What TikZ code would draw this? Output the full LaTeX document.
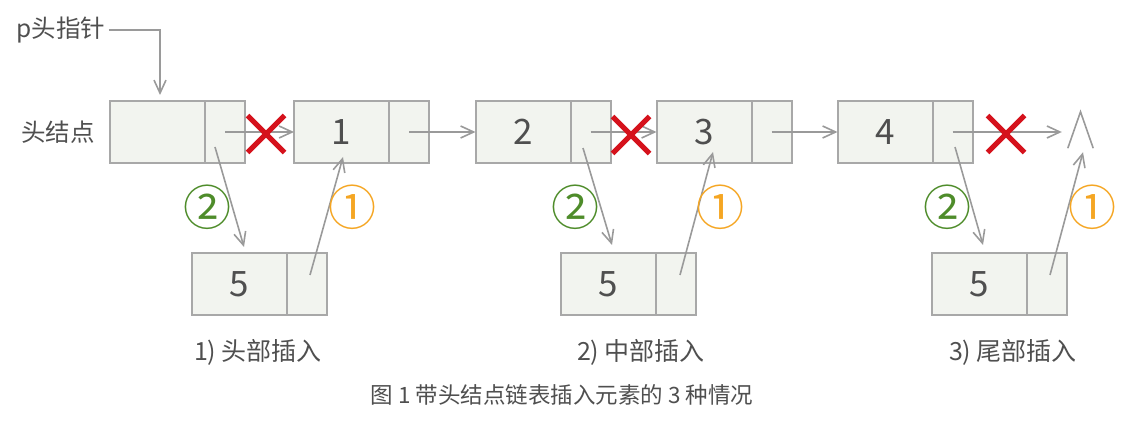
\documentclass[tikz,border=0pt]{standalone}
\usepackage{fontspec}
\setmainfont{Noto Sans CJK SC}
\usepackage{xcolor}
\usepackage{tikz}
\usetikzlibrary{arrows.meta,positioning,shapes.misc}
\definecolor{boxfill}{HTML}{F2F4EF}
\definecolor{boxline}{HTML}{A8A8A8}
\definecolor{linkgray}{HTML}{9A9A9A}
\definecolor{txtgray}{HTML}{4F4F4F}
\definecolor{stepgreen}{HTML}{4E8C2A}
\definecolor{steporange}{HTML}{F5A623}
\definecolor{cutred}{HTML}{D5121C}
\tikzset{
  >={Straight Barb[length=13pt,width=12pt]},
  datacell/.style={draw=boxline, fill=boxfill, line width=2pt, outer sep=0pt, minimum width=95pt, minimum height=62pt, text=txtgray, font=\fontsize{35}{38}\selectfont},
  ptrcell/.style={datacell, minimum width=40pt},
  link/.style={draw=linkgray, line width=1.6pt, ->},
  cutmark/.style={cross out, draw=cutred, line width=5pt, minimum size=32pt, inner sep=0pt},
  stepa/.style={text=steporange, font=\fontsize{48}{50}\selectfont, inner sep=0pt},
  stepb/.style={text=stepgreen, font=\fontsize{48}{50}\selectfont, inner sep=0pt},
  lbl/.style={text=txtgray, font=\fontsize{24.5}{27}\selectfont},
  capt/.style={text=txtgray, font=\fontsize{25}{28}\selectfont},
  title/.style={text=txtgray, font=\fontsize{22.5}{25}\selectfont},
}

\begin{document}
\begin{tikzpicture}[x=1pt,y=1pt]
  \useasboundingbox (0,0) rectangle (1145,434);

  \node[lbl] (ptr) at (61,404) {p头指针};
  \node[lbl] (head) at (58,302) {头结点};

  \node[datacell] (hd) at (157.5,302) {};
  \node[ptrcell, right=0pt of hd] (hdp) {};
  \node[datacell] (n1) at (341.5,302) {1};
  \node[ptrcell, right=0pt of n1] (n1p) {};
  \node[datacell] (n2) at (523,302) {2};
  \node[ptrcell, right=0pt of n2] (n2p) {};
  \node[datacell] (n3) at (704,302) {3};
  \node[ptrcell, right=0pt of n3] (n3p) {};
  \node[datacell] (n4) at (885,302) {4};
  \node[ptrcell, right=0pt of n4] (n4p) {};
  \node[inner sep=0pt, minimum width=25pt, minimum height=36pt] (null) at (1080.5,304) {};

  \node[datacell] (a5) at (239,150) {5};
  \node[ptrcell, right=0pt of a5] (a5p) {};
  \node[datacell] (b5) at (608,150) {5};
  \node[ptrcell, right=0pt of b5] (b5p) {};
  \node[datacell] (c5) at (979,150) {5};
  \node[ptrcell, right=0pt of c5] (c5p) {};

  \draw[draw=linkgray, line width=1.6pt] (null.south west) -- (null.north) -- (null.south east);

  \draw[link, shorten >=6pt] (ptr.east) -| ([xshift=2.5pt]hd.north);
  \draw[link] (hdp.center) -- (n1.west);
  \draw[link] (n1p.center) -- (n2.west);
  \draw[link] (n2p.center) -- (n3.west);
  \draw[link] (n3p.center) -- (n4.west);
  \draw[link, shorten >=6pt] (n4p.center) -- (n4p.center -| null.west);

  \draw[link] ([xshift=-10pt,yshift=-15pt]hdp.center) -- ([xshift=5pt,yshift=6pt]a5.north);
  \draw[link] ([xshift=3.5pt,yshift=9pt]a5p.center) -- ([xshift=1.5pt,yshift=-25pt]n1.center);
  \draw[link] ([xshift=-7.5pt,yshift=-16pt]n2p.center) -- ([xshift=4pt,yshift=8pt]b5.north);
  \draw[link] ([xshift=4.5pt,yshift=9pt]b5p.center) -- ([xshift=9pt,yshift=-20pt]n3.center);
  \draw[link] ([xshift=2.5pt,yshift=-15pt]n4p.center) -- ([xshift=4pt,yshift=8pt]c5.north);
  \draw[link] ([xshift=3.5pt,yshift=9pt]c5p.center) -- ([xshift=2.5pt,yshift=-4pt]null.south);

  \node[cutmark] (x1) at (266,300) {};
  \node[cutmark] (x2) at (631,299) {};
  \node[cutmark] (x3) at (1006,300) {};

  \node[stepb] (s2a) at (207,227) {②};
  \node[stepa] (s1a) at (352,227) {①};
  \node[stepb] (s2b) at (575,227) {②};
  \node[stepa] (s1b) at (720,227) {①};
  \node[stepb] (s2c) at (947,227) {②};
  \node[stepa] (s1c) at (1092,227) {①};

  \node[capt] (c1) at (258,82) {1) 头部插入};
  \node[capt] (c2) at (641,82) {2) 中部插入};
  \node[capt] (c3) at (1013,82) {3) 尾部插入};
  \node[title] (ttl) at (562,39) {图 1 带头结点链表插入元素的 3 种情况};
\end{tikzpicture}
\end{document}
